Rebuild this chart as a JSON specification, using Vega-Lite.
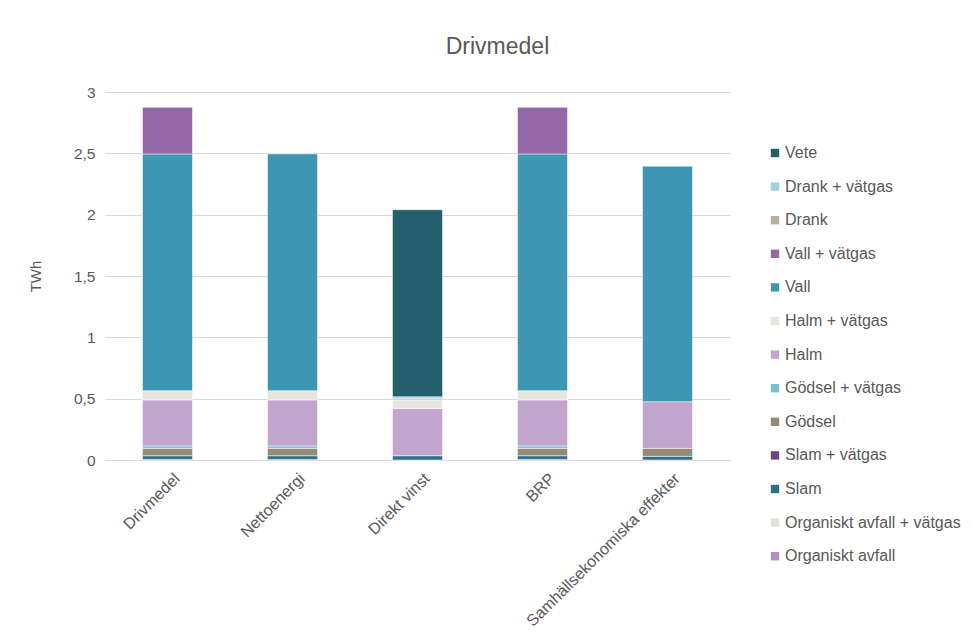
{
  "$schema": "https://vega.github.io/schema/vega-lite/v6.json",
  "width": 625,
  "height": 368,
  "autosize": "none",
  "padding": {"left": 105, "top": 92, "right": 243, "bottom": 179},
  "background": "white",
  "title": {"text": "Drivmedel", "fontSize": 23, "font": "Liberation Sans", "fontWeight": "normal", "color": "#595959", "offset": 26, "anchor": "middle", "dx": 80},
  "config": {"view": {"stroke": null}, "font": "Liberation Sans"},
  "data": {"values": [
    {"cat": "Drivmedel", "s": "Organiskt avfall", "k": 1, "v": 0.005},
    {"cat": "Drivmedel", "s": "Slam", "k": 3, "v": 0.03},
    {"cat": "Drivmedel", "s": "Gödsel", "k": 5, "v": 0.06},
    {"cat": "Drivmedel", "s": "Gödsel + vätgas", "k": 6, "v": 0.02},
    {"cat": "Drivmedel", "s": "Halm", "k": 7, "v": 0.375},
    {"cat": "Drivmedel", "s": "Halm + vätgas", "k": 8, "v": 0.075},
    {"cat": "Drivmedel", "s": "Vall", "k": 9, "v": 1.93},
    {"cat": "Drivmedel", "s": "Vall + vätgas", "k": 10, "v": 0.38},
    {"cat": "Nettoenergi", "s": "Organiskt avfall", "k": 1, "v": 0.005},
    {"cat": "Nettoenergi", "s": "Slam", "k": 3, "v": 0.03},
    {"cat": "Nettoenergi", "s": "Gödsel", "k": 5, "v": 0.06},
    {"cat": "Nettoenergi", "s": "Gödsel + vätgas", "k": 6, "v": 0.02},
    {"cat": "Nettoenergi", "s": "Halm", "k": 7, "v": 0.375},
    {"cat": "Nettoenergi", "s": "Halm + vätgas", "k": 8, "v": 0.075},
    {"cat": "Nettoenergi", "s": "Vall", "k": 9, "v": 1.93},
    {"cat": "Direkt vinst", "s": "Slam", "k": 3, "v": 0.035},
    {"cat": "Direkt vinst", "s": "Halm", "k": 7, "v": 0.385},
    {"cat": "Direkt vinst", "s": "Halm + vätgas", "k": 8, "v": 0.07},
    {"cat": "Direkt vinst", "s": "Drank", "k": 11, "v": 0.01},
    {"cat": "Direkt vinst", "s": "Drank + vätgas", "k": 12, "v": 0.015},
    {"cat": "Direkt vinst", "s": "Vete", "k": 13, "v": 1.525},
    {"cat": "BRP", "s": "Organiskt avfall", "k": 1, "v": 0.005},
    {"cat": "BRP", "s": "Slam", "k": 3, "v": 0.03},
    {"cat": "BRP", "s": "Gödsel", "k": 5, "v": 0.06},
    {"cat": "BRP", "s": "Gödsel + vätgas", "k": 6, "v": 0.02},
    {"cat": "BRP", "s": "Halm", "k": 7, "v": 0.375},
    {"cat": "BRP", "s": "Halm + vätgas", "k": 8, "v": 0.075},
    {"cat": "BRP", "s": "Vall", "k": 9, "v": 1.93},
    {"cat": "BRP", "s": "Vall + vätgas", "k": 10, "v": 0.38},
    {"cat": "Samhällsekonomiska effekter", "s": "Slam", "k": 3, "v": 0.03},
    {"cat": "Samhällsekonomiska effekter", "s": "Gödsel", "k": 5, "v": 0.065},
    {"cat": "Samhällsekonomiska effekter", "s": "Halm", "k": 7, "v": 0.38},
    {"cat": "Samhällsekonomiska effekter", "s": "Vall", "k": 9, "v": 1.92}
  ]},
  "mark": {"type": "bar", "stroke": "white", "strokeWidth": 0.5},
  "encoding": {
    "x": {
      "field": "cat", "type": "nominal",
      "sort": ["Drivmedel", "Nettoenergi", "Direkt vinst", "BRP", "Samhällsekonomiska effekter"],
      "scale": {"paddingInner": 0.6, "paddingOuter": 0.3},
      "axis": {"title": null, "labelAngle": -45, "labelFontSize": 16, "labelColor": "#595959", "domain": true, "domainColor": "#D9D9D9", "domainWidth": 1, "ticks": false, "labelPadding": 10, "labelOffset": 4, "labelLimit": 300}
    },
    "y": {
      "field": "v", "type": "quantitative", "stack": "zero",
      "scale": {"domain": [0, 3], "nice": false},
      "axis": {"title": "TWh", "titleFontSize": 15, "titleFontWeight": "normal", "titleColor": "#595959", "titlePadding": 30, "values": [0, 0.5, 1, 1.5, 2, 2.5, 3], "labelExpr": "replace(format(datum.value, '.1~f'), '.', ',')", "labelFontSize": 15.5, "labelColor": "#595959", "labelPadding": 10, "domain": false, "ticks": false, "gridColor": "#D9D9D9", "gridWidth": 1}
    },
    "color": {
      "field": "s", "type": "nominal",
      "scale": {
        "domain": ["Vete", "Drank + vätgas", "Drank", "Vall + vätgas", "Vall", "Halm + vätgas", "Halm", "Gödsel + vätgas", "Gödsel", "Slam + vätgas", "Slam", "Organiskt avfall + vätgas", "Organiskt avfall"],
        "range": ["#255E6C", "#9ED0E0", "#B8AFA1", "#9467A8", "#3E97B2", "#E6E4DE", "#C2A5CC", "#7CC0D2", "#958A74", "#6B4782", "#2E6E87", "#E2E0DA", "#B38FC4"]
      },
      "legend": {"title": null, "orient": "none", "legendX": 662, "legendY": 53, "symbolType": "square", "symbolSize": 70, "symbolStrokeWidth": 0, "labelFontSize": 16, "labelColor": "#595959", "rowPadding": 17.6, "labelOffset": 2, "labelLimit": 300}
    },
    "order": {"field": "k", "type": "quantitative", "sort": "ascending"}
  }
}
